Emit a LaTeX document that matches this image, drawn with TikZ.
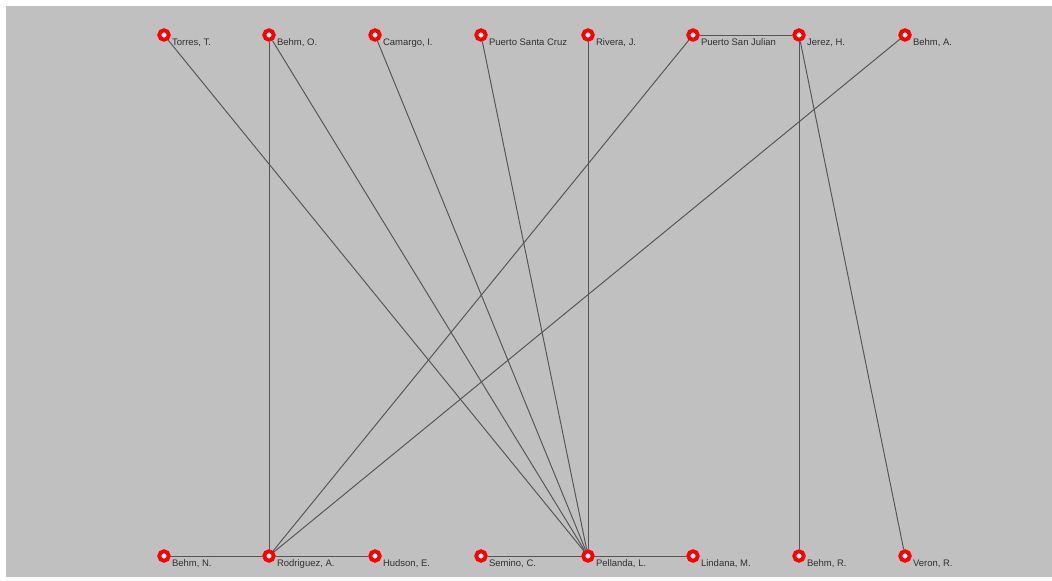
\documentclass[tikz,border=0pt]{standalone}
\usepackage{fontspec}
\setmainfont{Liberation Sans}
\usepackage{tikz}
\usetikzlibrary{positioning}

\definecolor{panelgray}{HTML}{C0C0C0}
\definecolor{linkgray}{HTML}{555555}
\definecolor{labelgray}{HTML}{303030}

\begin{document}
\begin{tikzpicture}[
  x=0.02cm, y=-0.02cm,
  person/.style={circle, draw=red, fill=white, line width=2.2pt, minimum size=0.19cm, inner sep=0pt,
    label={[anchor=base west, inner sep=0pt, xshift=0.06cm, yshift=-0.12cm, text=labelgray, font=\fontsize{5.4}{6}\selectfont]south east:#1}},
  link/.style={draw=linkgray, line width=0.55pt}
]
  \useasboundingbox (0,0) rectangle (1052,581);
  \fill[panelgray] (6,6) rectangle (1052,577);

  % top row
  \node[person={Torres, T.}] (torres) at (164,35) {};
  \node[person={Behm, O.}] (behmO) at (269,35) {};
  \node[person={Camargo, I.}] (camargo) at (375,35) {};
  \node[person={Puerto Santa Cruz}] (santacruz) at (481,35) {};
  \node[person={Rivera, J.}] (rivera) at (588,35) {};
  \node[person={Puerto San Julian}] (sanjulian) at (693,35) {};
  \node[person={Jerez, H.}] (jerez) at (799,35) {};
  \node[person={Behm, A.}] (behmA) at (905,35) {};

  % bottom row
  \node[person={Behm, N.}] (behmN) at (164,556) {};
  \node[person={Rodriguez, A.}] (rodriguez) at (269,556) {};
  \node[person={Hudson, E.}] (hudson) at (375,556) {};
  \node[person={Semino, C.}] (semino) at (481,556) {};
  \node[person={Pellanda, L.}] (pellanda) at (588,556) {};
  \node[person={Lindana, M.}] (lindana) at (693,556) {};
  \node[person={Behm, R.}] (behmR) at (799,556) {};
  \node[person={Veron, R.}] (veron) at (905,556) {};

  \draw[link] (torres) -- (pellanda);
  \draw[link] (behmO) -- (rodriguez);
  \draw[link] (behmO) -- (pellanda);
  \draw[link] (camargo) -- (pellanda);
  \draw[link] (santacruz) -- (pellanda);
  \draw[link] (rivera) -- (pellanda);
  \draw[link] (sanjulian) -- (rodriguez);
  \draw[link] (sanjulian) -- (jerez);
  \draw[link] (jerez) -- (behmR);
  \draw[link] (jerez) -- (veron);
  \draw[link] (behmA) -- (rodriguez);
  \draw[link] (behmN) -- (rodriguez);
  \draw[link] (rodriguez) -- (hudson);
  \draw[link] (semino) -- (pellanda);
  \draw[link] (pellanda) -- (lindana);
\end{tikzpicture}
\end{document}
